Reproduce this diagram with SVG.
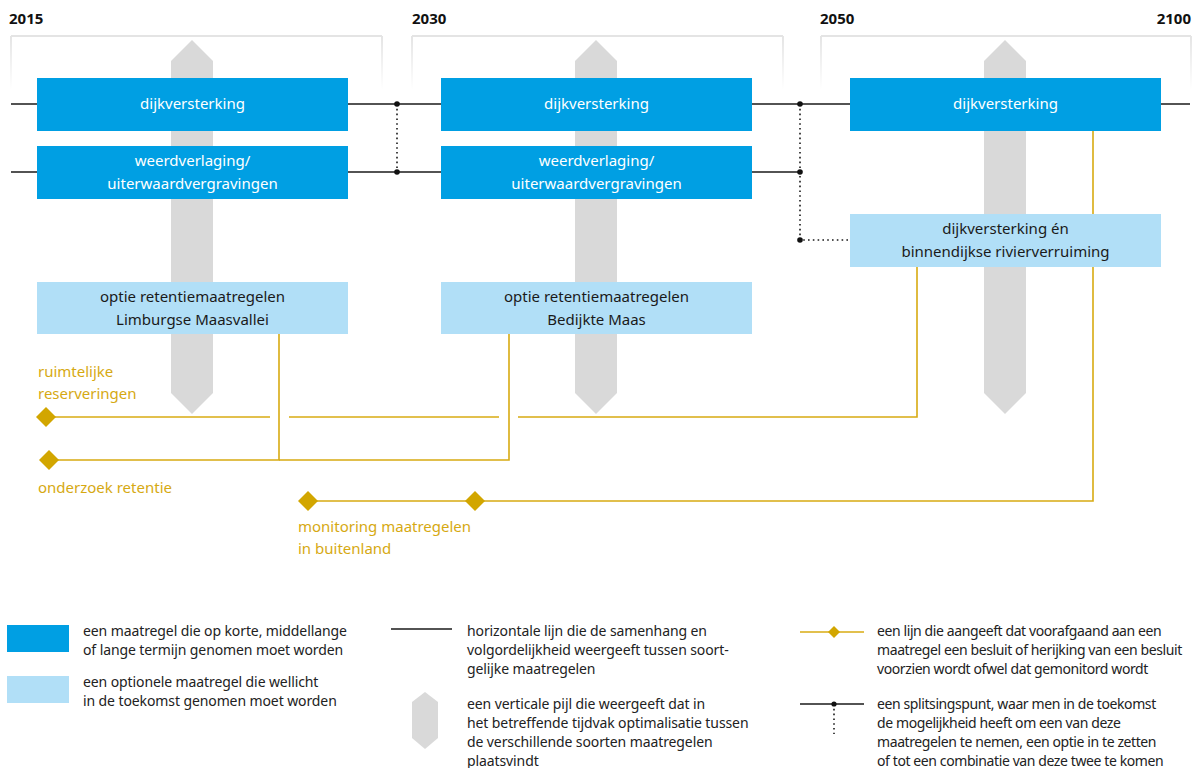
<svg xmlns="http://www.w3.org/2000/svg" width="1203" height="768" viewBox="0 0 1203 768">
<defs>
<linearGradient id="fade" x1="0" y1="0" x2="0" y2="1">
<stop offset="0" stop-color="#e4e4e4"/>
<stop offset="1" stop-color="#e4e4e4" stop-opacity="0"/>
</linearGradient>
<polygon id="arrow" points="0,40 21,61 21,393 0,414 -21,393 -21,61"/>
<polygon id="dia" points="0,-10 10,0 0,10 -10,0"/>
</defs>
<style>
text{font-family:"Noto Sans","Open Sans","DejaVu Sans",sans-serif}
.yr{font-size:15px;font-weight:bold;fill:#111}
.dk{fill:#009fe3}
.lt{fill:#b1dff7}
.wt{font-size:15px;fill:#fff;text-anchor:middle}
.bt{font-size:15px;fill:#1a1a1a;text-anchor:middle}
.gt{font-size:15px;fill:#d6a912}
.lg{font-size:14px;fill:#222;letter-spacing:-0.1px}
.lg3{font-size:14px;fill:#222;letter-spacing:-0.4px}
.blk{stroke:#1a1a1a;stroke-width:1.5;fill:none}
.dot{stroke:#1a1a1a;stroke-width:1.6;fill:none;stroke-dasharray:1.6 3.2}
.gl{stroke:#d8ab12;stroke-width:1.6;fill:none}
.gd{fill:#d2a600}
.br{stroke:#e4e4e4;stroke-width:2;fill:none}
.ar{fill:#d9d9d9}
</style>
<rect width="1203" height="768" fill="#fff"/>

<g id="years">
<text class="yr" x="9" y="24">2015</text>
<text class="yr" x="412" y="24">2030</text>
<text class="yr" x="820" y="24">2050</text>
<text class="yr" x="1191" y="24" text-anchor="end">2100</text>
</g>

<g id="periods">
<line class="br" x1="11" y1="36" x2="382" y2="36"/>
<rect x="10" y="36" width="2" height="54" fill="url(#fade)"/>
<rect x="381" y="36" width="2" height="54" fill="url(#fade)"/>
<line class="br" x1="412" y1="36" x2="783" y2="36"/>
<rect x="411" y="36" width="2" height="54" fill="url(#fade)"/>
<rect x="782" y="36" width="2" height="54" fill="url(#fade)"/>
<line class="br" x1="821" y1="36" x2="1191" y2="36"/>
<rect x="820" y="36" width="2" height="54" fill="url(#fade)"/>
<rect x="1190" y="36" width="2" height="54" fill="url(#fade)"/>
</g>

<g id="optimisation-arrows">
<use href="#arrow" x="192" class="ar"/>
<use href="#arrow" x="596" class="ar"/>
<use href="#arrow" x="1005" class="ar"/>
</g>

<g id="connectors">
<line class="blk" x1="11" y1="104" x2="1190" y2="104"/>
<line class="blk" x1="11" y1="172" x2="800" y2="172"/>
<line class="dot" x1="397" y1="104" x2="397" y2="172"/>
<polyline class="dot" points="800,104 800,240 850,240"/>
<circle cx="397" cy="104" r="2.8" fill="#111"/>
<circle cx="397" cy="172" r="2.8" fill="#111"/>
<circle cx="800" cy="104" r="2.8" fill="#111"/>
<circle cx="800" cy="172" r="2.8" fill="#111"/>
<circle cx="800" cy="240" r="2.8" fill="#111"/>
<line class="gl" x1="45" y1="417" x2="270" y2="417"/>
<line class="gl" x1="289" y1="417" x2="499" y2="417"/>
<polyline class="gl" points="518,417 917,417 917,266"/>
<polyline class="gl" points="49,460 279,460 279,334"/>
<polyline class="gl" points="279,460 509,460 509,334"/>
<polyline class="gl" points="308,501 1093,501 1093,131"/>
</g>

<g id="node-dijk1">
<rect class="dk" x="37" y="78" width="311" height="53"/>
<text class="wt" x="192.5" y="109">dijkversterking</text>
</g>
<g id="node-weerd1">
<rect class="dk" x="37" y="146" width="311" height="53"/>
<text class="wt" x="192.5" y="166">weerdverlaging/</text>
<text class="wt" x="192.5" y="189">uiterwaardvergravingen</text>
</g>
<g id="node-retentie1">
<rect class="lt" x="37" y="282" width="311" height="52"/>
<text class="bt" x="192.5" y="302">optie retentiemaatregelen</text>
<text class="bt" x="192.5" y="325">Limburgse Maasvallei</text>
</g>
<g id="node-dijk2">
<rect class="dk" x="441" y="78" width="311" height="53"/>
<text class="wt" x="596.5" y="109">dijkversterking</text>
</g>
<g id="node-weerd2">
<rect class="dk" x="441" y="146" width="311" height="53"/>
<text class="wt" x="596.5" y="166">weerdverlaging/</text>
<text class="wt" x="596.5" y="189">uiterwaardvergravingen</text>
</g>
<g id="node-retentie2">
<rect class="lt" x="441" y="282" width="311" height="52"/>
<text class="bt" x="596.5" y="302">optie retentiemaatregelen</text>
<text class="bt" x="596.5" y="325">Bedijkte Maas</text>
</g>
<g id="node-dijk3">
<rect class="dk" x="850" y="78" width="311" height="53"/>
<text class="wt" x="1005.5" y="109">dijkversterking</text>
</g>
<g id="node-rivier3">
<rect class="lt" x="850" y="214" width="311" height="53"/>
<text class="bt" x="1005.5" y="234">dijkversterking én</text>
<text class="bt" x="1005.5" y="257">binnendijkse rivierverruiming</text>
</g>

<g id="node-ruimtelijk">
<use href="#dia" x="46" y="417" class="gd"/>
<text class="gt" x="38" y="377">ruimtelijke</text>
<text class="gt" x="38" y="399">reserveringen</text>
</g>
<g id="node-onderzoek">
<use href="#dia" x="49" y="460" class="gd"/>
<text class="gt" x="38" y="493">onderzoek retentie</text>
</g>
<g id="node-monitoring">
<use href="#dia" x="308" y="501" class="gd"/>
<use href="#dia" x="475" y="501" class="gd"/>
<text class="gt" x="298" y="532">monitoring maatregelen</text>
<text class="gt" x="298" y="554">in buitenland</text>
</g>

<g id="legend">
<rect class="dk" x="7" y="625" width="62" height="27"/>
<text class="lg" x="83" y="636">een maatregel die op korte, middellange</text>
<text class="lg" x="83" y="655">of lange termijn genomen moet worden</text>
<rect class="lt" x="7" y="676" width="62" height="27"/>
<text class="lg" x="83" y="687">een optionele maatregel die wellicht</text>
<text class="lg" x="83" y="706">in de toekomst genomen moet worden</text>

<line class="blk" x1="391" y1="629" x2="452" y2="629"/>
<text class="lg" x="467" y="636">horizontale lijn die de samenhang en</text>
<text class="lg" x="467" y="655">volgordelijkheid weergeeft tussen soort-</text>
<text class="lg" x="467" y="674">gelijke maatregelen</text>
<polygon class="ar" points="425,692 438,702 438,738 425,749 412,738 412,702"/>
<text class="lg" x="467" y="709">een verticale pijl die weergeeft dat in</text>
<text class="lg" x="467" y="728">het betreffende tijdvak optimalisatie tussen</text>
<text class="lg" x="467" y="747">de verschillende soorten maatregelen</text>
<text class="lg" x="467" y="766">plaatsvindt</text>

<line class="gl" x1="800" y1="632" x2="864" y2="632"/>
<polygon class="gd" points="834,626 840,632 834,638 828,632"/>
<text class="lg3" x="877" y="636">een lijn die aangeeft dat voorafgaand aan een</text>
<text class="lg3" x="877" y="655">maatregel een besluit of herijking van een besluit</text>
<text class="lg3" x="877" y="674">voorzien wordt ofwel dat gemonitord wordt</text>
<line class="blk" x1="800" y1="704" x2="864" y2="704"/>
<line class="dot" x1="834" y1="704" x2="834" y2="734"/>
<circle cx="834" cy="704" r="2.6" fill="#111"/>
<text class="lg3" x="877" y="709">een splitsingspunt, waar men in de toekomst</text>
<text class="lg3" x="877" y="728">de mogelijkheid heeft om een van deze</text>
<text class="lg3" x="877" y="747">maatregelen te nemen, een optie in te zetten</text>
<text class="lg3" x="877" y="766">of tot een combinatie van deze twee te komen</text>
</g>
</svg>
